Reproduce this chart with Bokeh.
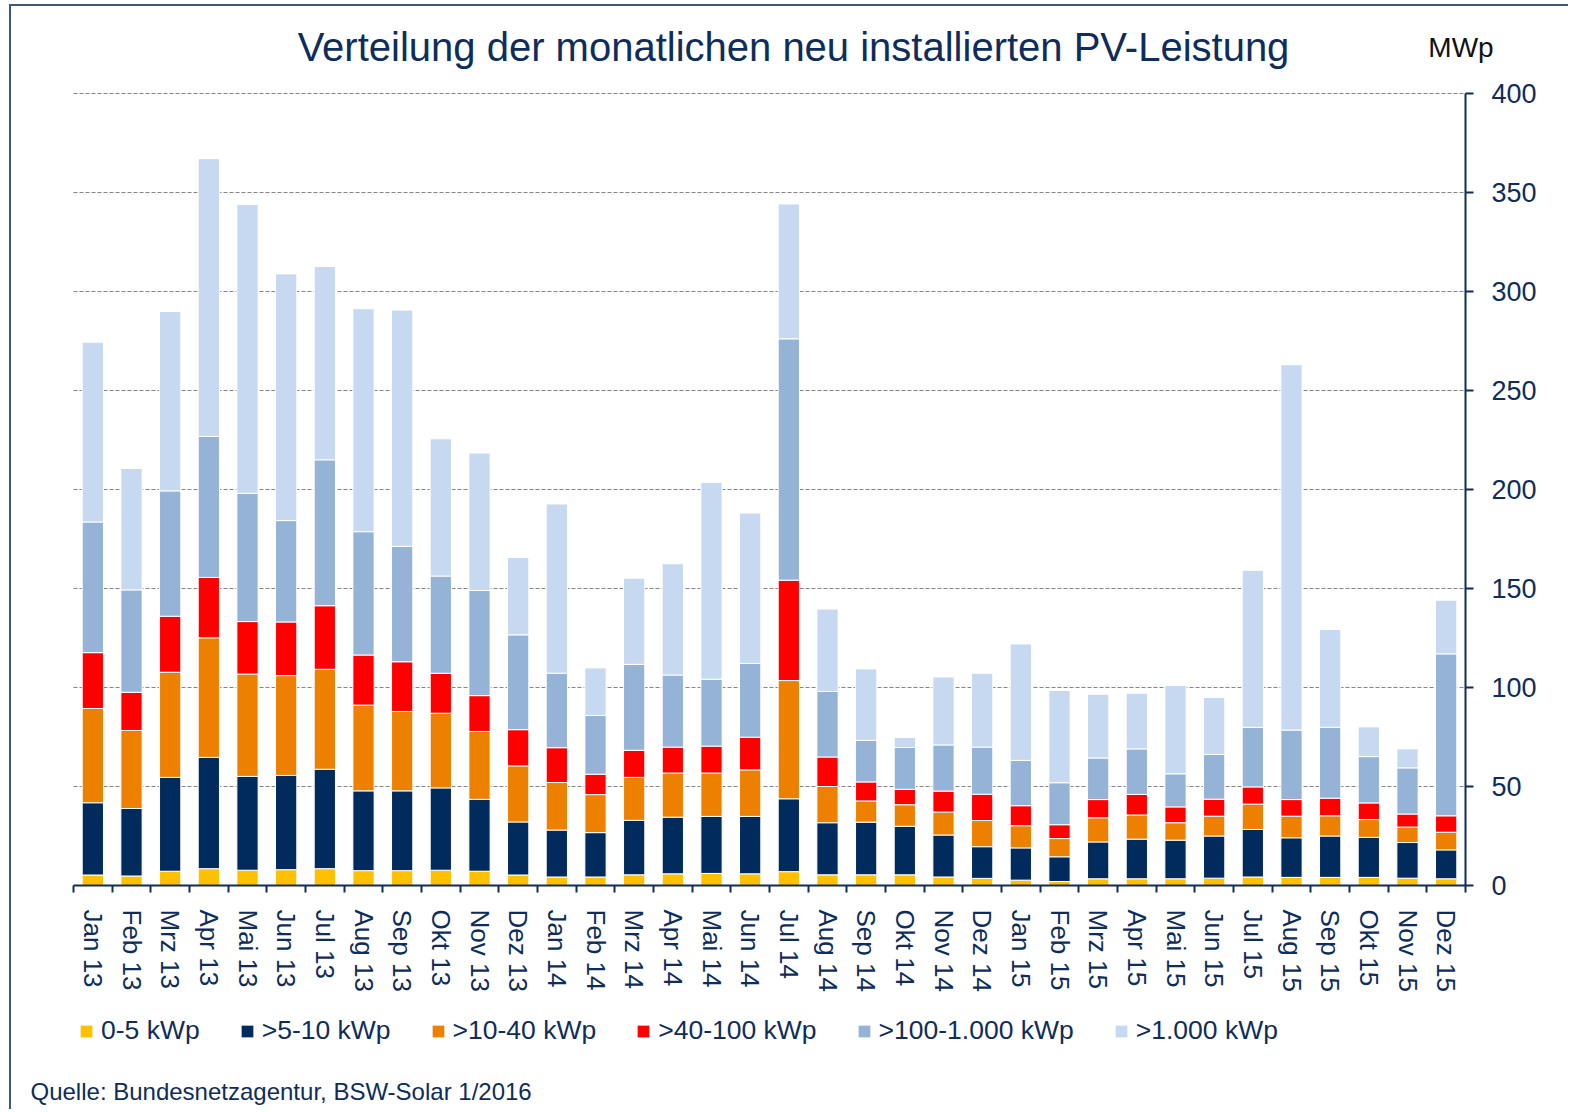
from bokeh.plotting import figure
from bokeh.models import (Range1d, LinearAxis, FixedTicker, Legend, LegendItem, Label)
from bokeh.embed import file_html
from bokeh.resources import INLINE

# ---------------- data ----------------
months = ["Jan 13", "Feb 13", "Mrz 13", "Apr 13", "Mai 13", "Jun 13", "Jul 13", "Aug 13", "Sep 13", "Okt 13", "Nov 13", "Dez 13",
          "Jan 14", "Feb 14", "Mrz 14", "Apr 14", "Mai 14", "Jun 14", "Jul 14", "Aug 14", "Sep 14", "Okt 14", "Nov 14", "Dez 14",
          "Jan 15", "Feb 15", "Mrz 15", "Apr 15", "Mai 15", "Jun 15", "Jul 15", "Aug 15", "Sep 15", "Okt 15", "Nov 15", "Dez 15"]

kwp_0_5 = [5.3, 4.8, 7.2, 8.5, 7.7, 8.0, 8.5, 7.5, 7.5, 7.7, 7.2, 5.3,
           4.3, 4.3, 5.4, 5.9, 6.1, 5.9, 7.0, 5.4, 5.4, 5.4, 4.3, 3.6,
           2.7, 2.0, 3.4, 3.4, 3.4, 3.7, 4.3, 4.1, 4.1, 4.1, 3.7, 3.4]
kwp_5_10 = [36.5, 34.1, 47.4, 56.2, 47.4, 47.6, 50.2, 40.3, 40.3, 41.6, 36.3, 26.8,
            23.7, 22.4, 27.5, 28.6, 28.8, 29.0, 36.8, 26.3, 26.6, 24.5, 21.2, 16.0,
            16.3, 12.5, 18.6, 20.0, 19.5, 21.3, 24.0, 20.0, 20.9, 20.2, 18.0, 14.6]
kwp_10_40 = [47.6, 39.4, 53.1, 60.4, 51.7, 50.4, 50.5, 43.3, 40.1, 37.7, 34.3, 28.3,
             24.0, 19.2, 21.7, 22.3, 21.9, 23.5, 59.7, 18.3, 10.7, 10.9, 11.6, 13.2,
             11.2, 9.2, 12.2, 12.2, 8.8, 10.0, 12.8, 10.9, 10.2, 9.0, 7.8, 8.9]
kwp_40_100 = [28.2, 19.3, 28.3, 30.5, 26.5, 27.1, 32.1, 25.3, 25.1, 20.2, 18.1, 18.3,
              17.6, 10.3, 13.7, 13.1, 13.6, 16.5, 50.7, 14.9, 9.6, 7.8, 10.6, 13.3,
              10.1, 7.0, 9.2, 10.4, 8.0, 8.6, 8.7, 8.4, 8.9, 8.4, 6.6, 8.3]
kwp_100_1000 = [66.0, 51.7, 63.3, 71.2, 64.8, 51.2, 73.7, 62.3, 58.3, 49.1, 53.1, 47.9,
                37.6, 29.7, 43.4, 36.4, 33.8, 37.3, 121.9, 33.1, 21.0, 21.1, 23.3, 23.8,
                22.9, 21.2, 21.0, 23.0, 16.7, 22.6, 30.1, 35.1, 35.8, 23.4, 23.3, 81.8]
kwp_over_1000 = [90.8, 61.3, 90.6, 140.3, 145.9, 124.6, 97.6, 112.6, 119.3, 69.3, 69.4, 39.1,
                 85.5, 24.0, 43.5, 56.2, 99.4, 75.9, 68.1, 41.6, 36.1, 5.0, 34.3, 37.3,
                 58.8, 46.6, 32.2, 28.1, 44.6, 28.8, 79.3, 184.5, 49.4, 15.0, 9.6, 27.1]

series_keys = ["k0_5", "k5_10", "k10_40", "k40_100", "k100_1000", "k1000"]
series_labels = ["0-5 kWp", ">5-10 kWp", ">10-40 kWp", ">40-100 kWp", ">100-1.000 kWp", ">1.000 kWp"]
series_colors = ["#FFC000", "#002B5C", "#EE8000", "#FF0000", "#95B3D7", "#C6D9F1"]
y_ticks = [0, 50, 100, 150, 200, 250, 300, 350, 400]

title_text = "Verteilung der monatlichen neu installierten PV-Leistung"
unit_text = "MWp"
source_text = "Quelle: Bundesnetzagentur, BSW-Solar 1/2016"

NAVY = "#0E2D5C"
FONT = "Liberation Sans"

n = len(months)
idx = list(range(n))
data = dict(pos=idx, k0_5=kwp_0_5, k5_10=kwp_5_10, k10_40=kwp_10_40,
            k40_100=kwp_40_100, k100_1000=kwp_100_1000, k1000=kwp_over_1000)

# ---------------- layout (page pixels) ----------------
CANVAS_X, CANVAS_Y = 11, 6          # page position of the canvas (after css margin + border)
W, H = 1559, 1105
AX_LEFT, AX_RIGHT = 73, 1465        # page x of the category band edges
AX_ZERO, AX_TOP = 885, 93           # page y of 0 and 400
px_per_cat = (AX_RIGHT - AX_LEFT) / n
px_per_unit = (AX_ZERO - AX_TOP) / 400.0


def ux(page_x):
    return (page_x - AX_LEFT) / px_per_cat - 0.5


def vy(page_y):
    return (AX_ZERO - page_y) / px_per_unit


p = figure(x_range=Range1d(ux(CANVAS_X), ux(CANVAS_X + W)),
           y_range=Range1d(vy(CANVAS_Y + H), vy(CANVAS_Y)),
           width=W, height=H, output_backend="svg", toolbar_location=None,
           x_axis_location=None, y_axis_location=None,
           min_border_left=0, min_border_top=0, min_border_right=0, min_border_bottom=0)
p.outline_line_color = None
p.background_fill_color = "white"
p.border_fill_color = "white"
p.grid.visible = False
p.styles = {"border-left": "2px solid #3B5A80", "border-top": "2px solid #3B5A80",
            "margin-left": "9px", "margin-top": "4px"}

# dashed horizontal grid lines across the category band
grid_levels = [t for t in y_ticks if t > 0]
p.segment(x0=[-0.5] * len(grid_levels), x1=[n - 0.5] * len(grid_levels),
          y0=grid_levels, y1=grid_levels, line_color="#858585", line_dash="4 2", line_width=1)

renderers = p.vbar_stack(series_keys, x="pos", width=0.55, source=data,
                         color=series_colors, line_color="white", line_width=1)

# right y axis at the right edge of the category band
yax = LinearAxis(fixed_location=n - 0.5, bounds=(0, 400), ticker=FixedTicker(ticks=y_ticks))
yax.axis_line_color = NAVY
yax.axis_line_width = 2
yax.major_tick_line_color = NAVY
yax.major_tick_line_width = 2
yax.major_tick_in = 0
yax.major_tick_out = 8
yax.minor_tick_line_color = None
yax.major_label_text_font = FONT
yax.major_label_text_font_size = "27px"
yax.major_label_text_color = NAVY
yax.major_label_standoff = 18
p.add_layout(yax, "right")

# x axis: month labels at band centres, boundary ticks as minor ticks
xax = LinearAxis(fixed_location=0, bounds=(-0.5, n - 0.5),
                 ticker=FixedTicker(ticks=idx, minor_ticks=[i - 0.5 for i in range(n + 1)]),
                 major_label_overrides={i: m for i, m in zip(idx, months)})
xax.axis_line_color = NAVY
xax.axis_line_width = 2
xax.major_tick_line_color = None
xax.major_tick_in = 0
xax.major_tick_out = 0
xax.minor_tick_line_color = NAVY
xax.minor_tick_line_width = 2
xax.minor_tick_in = 0
xax.minor_tick_out = 7
xax.major_label_orientation = "vertical"
xax.major_label_text_font = FONT
xax.major_label_text_font_size = "26px"
xax.major_label_text_color = NAVY
xax.major_label_standoff = 17
p.add_layout(xax, "below")

# title, unit and source texts
p.add_layout(Label(x=ux(793), y=vy(46), text=title_text, text_align="center", text_baseline="alphabetic",
                   text_font=FONT, text_font_size="40px", text_color=NAVY))
p.add_layout(Label(x=ux(1460.5), y=vy(47), text=unit_text, text_align="center", text_baseline="alphabetic",
                   text_font=FONT, text_font_size="28px", text_color="#111111"))
p.add_layout(Label(x=ux(30), y=vy(1091), text=source_text, text_align="left", text_baseline="alphabetic",
                   text_font=FONT, text_font_size="24px", text_color=NAVY))

# legend
items = [LegendItem(label=lab, renderers=[r]) for lab, r in zip(series_labels, renderers)]
legend = Legend(items=items, orientation="horizontal", location=(78 - CANVAS_X, 65),
                glyph_width=16, glyph_height=16, label_standoff=7, spacing=39,
                padding=0, margin=0, border_line_color=None, background_fill_alpha=0,
                label_text_font=FONT, label_text_font_size="26.5px", label_text_color=NAVY)
p.add_layout(legend, "center")

open("out.html", "w").write(file_html(p, INLINE))
